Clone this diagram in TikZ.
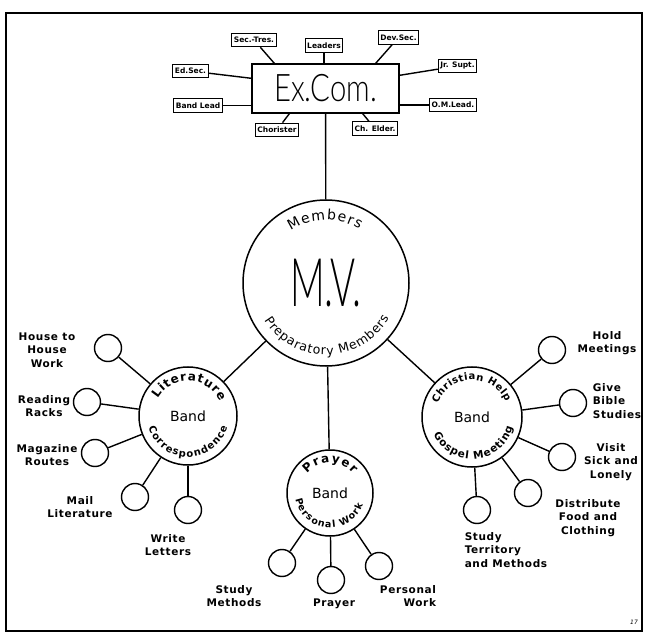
\documentclass[tikz,border=0pt]{standalone}
\usepackage{fontspec}
\setmainfont{DejaVu Sans}
\newfontfamily\thinfont{Lato}[UprightFont={* Light}]
\newfontfamily\letterfont{DejaVu Sans}[LetterSpace=6]
\usetikzlibrary{calc,decorations.text}

\tikzset{
  ring/.style={circle, draw, line width=1.5pt, inner sep=0pt},
  leaf/.style={circle, draw, line width=1.4pt, minimum size=27pt, inner sep=0pt},
  office/.style={draw, line width=1.1pt, inner xsep=2pt, inner ysep=1.5pt, minimum height=13.5pt,
    font=\fontsize{7.5}{8}\selectfont\bfseries},
  note/.style={align=center, font=\letterfont\fontsize{10.5}{13.5}\selectfont\bfseries},
  ringtext/.style n args={3}{decorate, decoration={text along path, text align=fit to path,
    text={|\fontsize{#1}{#1}\selectfont#2|#3}}},
}

\begin{document}
\begin{tikzpicture}[x=1pt, y=1pt, line width=1.4pt]
\useasboundingbox (0,0) rectangle (645,638);
\draw[line width=1.6pt] (6,7) rectangle (642,625);

% executive committee
\node[draw, line width=1.4pt, minimum width=147pt, minimum height=49pt, inner sep=0pt] (excom) at (325.5,549.5)
  {\thinfont\fontsize{38}{38}\selectfont\scalebox{0.77}[1]{Ex.Com.}};
\node[office] (sectres) at (254,598) {Sec.-Tres.};
\node[office] (leaders) at (324,592.5) {Leaders};
\node[office] (devsec) at (398.5,600.5) {Dev.Sec.};
\node[office] (edsec) at (190.5,567) {Ed.Sec.};
\node[office] (jrsupt) at (457.5,572) {Jr. Supt.};
\node[office] (bandlead) at (198,532.5) {Band Lead};
\node[office] (omlead) at (453,533) {O.M.Lead.};
\node[office] (chorister) at (277,508) {Chorister};
\node[office] (chelder) at (375,509.5) {Ch. Elder.};

\draw (sectres) -- ([xshift=23pt]excom.north west);
\draw (leaders) -- (leaders |- excom.north);
\draw (devsec) -- ([xshift=-24pt]excom.north east);
\draw (edsec) -- ([yshift=-15pt]excom.north west);
\draw (jrsupt) -- ([yshift=-12pt]excom.north east);
\draw (bandlead) -- (bandlead -| excom.west);
\draw (omlead) -- (omlead -| excom.east);
\draw (chorister) -- ([xshift=38pt]excom.south west);
\draw (chelder) -- ([xshift=-37pt]excom.south east);

% society and bands
\node[ring, minimum size=166pt] (mv) at (326,355)
  {\thinfont\fontsize{67}{67}\selectfont\scalebox{0.57}[1]{M.V.}};
\node[ring, minimum size=98pt, font=\fontsize{14}{14}\selectfont] (lit) at (188,222) {Band};
\node[ring, minimum size=86pt, font=\fontsize{14}{14}\selectfont] (prayer) at (330,145) {Band};
\node[ring, minimum size=100pt, font=\fontsize{14}{14}\selectfont] (chr) at (472,221) {Band};

\draw (excom) -- (mv);
\draw (mv) -- (lit);
\draw (mv) -- (prayer);
\draw (mv) -- (chr);

\path[ringtext={14}{}{Members}] ($(mv)+(124:63)$) arc[start angle=124, end angle=58, radius=63];
\path[ringtext={12.5}{}{Preparatory Members}] ($(mv)+(211:72)$) arc[start angle=211, end angle=331, radius=72];
\path[ringtext={12}{\bfseries}{Literature}] ($(lit)+(150:35)$) arc[start angle=150, end angle=25, radius=35];
\path[ringtext={10}{\bfseries}{Correspondence}] ($(lit)+(196:41)$) arc[start angle=196, end angle=344, radius=41];
\path[ringtext={12}{\bfseries}{Prayer}] ($(prayer)+(140:30)$) arc[start angle=140, end angle=40, radius=30];
\path[ringtext={9.5}{\bfseries}{Personal Work}] ($(prayer)+(190:35)$) arc[start angle=190, end angle=340, radius=35];
\path[ringtext={10}{\bfseries}{Christian Help}] ($(chr)+(158:37)$) arc[start angle=158, end angle=24, radius=37];
\path[ringtext={10.5}{\bfseries}{Gospel Meeting}] ($(chr)+(204:42)$) arc[start angle=204, end angle=346, radius=42];

% literature band
\node[leaf] (hh) at (108,290) {};
\node[leaf] (rr) at (87,236) {};
\node[leaf] (mr) at (95,185) {};
\node[leaf] (ml) at (135,141) {};
\node[leaf] (wl) at (188,128) {};
\draw (lit) -- (hh);
\draw (lit) -- (rr);
\draw (lit) -- (mr);
\draw (lit) -- (ml);
\draw (lit) -- (wl);
\node[note] (hhtxt) at (47,288) {House to\\House\\Work};
\node[note] (rrtxt) at (44,232) {Reading\\Racks};
\node[note] (mrtxt) at (47,183) {Magazine\\Routes};
\node[note] (mltxt) at (80,131) {Mail\\Literature};
\node[note] (wltxt) at (168,93) {Write\\Letters};

% prayer band
\node[leaf] (sm) at (282,75) {};
\node[leaf] (pr) at (331,58) {};
\node[leaf] (pw) at (379,72) {};
\draw (prayer) -- (sm);
\draw (prayer) -- (pr);
\draw (prayer) -- (pw);
\node[note] (smtxt) at (234,42) {Study\\Methods};
\node[note] (prtxt) at (334,34) {Prayer};
\node[note, align=right] (pwtxt) at (408,42) {Personal\\Work};

% christian help band
\node[leaf] (hm) at (552,288) {};
\node[leaf] (gb) at (573,235) {};
\node[leaf] (vs) at (562,181) {};
\node[leaf] (df) at (528,145) {};
\node[leaf] (st) at (477,128) {};
\draw (chr) -- (hm);
\draw (chr) -- (gb);
\draw (chr) -- (vs);
\draw (chr) -- (df);
\draw (chr) -- (st);
\node[note] (hmtxt) at (607,295) {Hold\\Meetings};
\node[note, align=left] (gbtxt) at (617,237) {Give\\Bible\\Studies};
\node[note] (vstxt) at (611,176) {Visit\\Sick and\\Lonely};
\node[note] (dftxt) at (588,120) {Distribute\\Food and\\Clothing};
\node[note, align=left] (sttxt) at (506,88) {Study\\Territory\\and Methods};

\node[font=\fontsize{6}{6}\selectfont\itshape] (pageno) at (634,16) {17};
\end{tikzpicture}
\end{document}
